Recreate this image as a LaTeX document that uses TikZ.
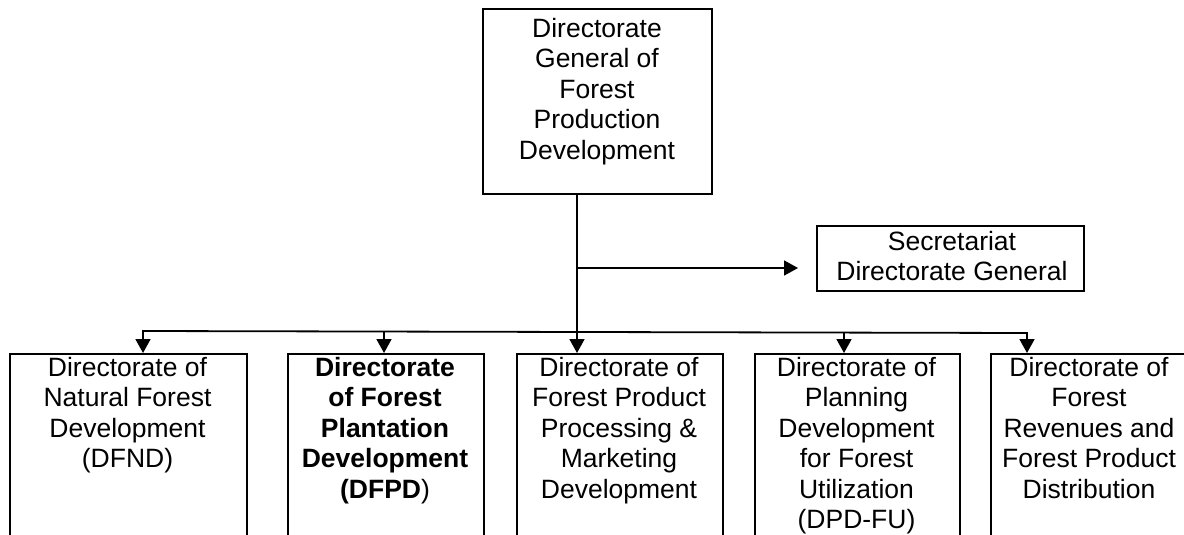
\documentclass[tikz,border=0pt]{standalone}
\usepackage{fontspec}
\setmainfont{Liberation Sans}
\usetikzlibrary{arrows.meta}

\begin{document}
\begin{tikzpicture}[x = 1pt, y = -1pt,
    unit/.style = {draw, line width = 1.8pt, inner sep = 0pt, anchor = north west},
    caption/.style = {align = center, inner sep = 0pt, anchor = north,
        font = \fontsize{26.5}{30.5}\selectfont},
    link/.style = {line width = 1.8pt},
    arr/.style = {link, -{Triangle[length = 14pt, width = 15pt]}}]
    \useasboundingbox (0, 0) rectangle (1184, 535);
    \clip (0, 0) rectangle (1184, 535);

    % director general and secretariat
    \node[unit, minimum width = 229pt, minimum height = 185pt] (dgfpd) at (482, 8) {};
    \node[caption] (dgfpdtext) at (597, 18) {Directorate\\General of\\Forest\\Production\\Development};

    \node[unit, minimum width = 267pt, minimum height = 65pt] (sec) at (816, 225) {};
    \node[caption] (sectext) at (952, 231) {Secretariat\\Directorate General};

    % directorates (cut off at the bottom)
    \node[unit, minimum width = 237pt, minimum height = 207pt] (dfnd) at (9, 353) {};
    \node[caption] (dfndtext) at (127.5, 357) {Directorate of\\Natural Forest\\Development\\(DFND)};

    \node[unit, minimum width = 196pt, minimum height = 207pt] (dfpd) at (287, 353) {};
    \node[caption] (dfpdtext) at (385, 357) {\textbf{Directorate}\\\textbf{of Forest}\\\textbf{Plantation}\\\textbf{Development}\\\textbf{(DFPD})};

    \node[unit, minimum width = 206pt, minimum height = 207pt] (fppmd) at (516, 353) {};
    \node[caption] (fppmdtext) at (619, 357) {Directorate of\\Forest Product\\Processing \&\\Marketing\\Development};

    \node[unit, minimum width = 205pt, minimum height = 207pt] (dpdfu) at (754, 353) {};
    \node[caption] (dpdfutext) at (856.5, 357) {Directorate of\\Planning\\Development\\for Forest\\Utilization\\(DPD-FU)};

    \node[unit, minimum width = 200pt, minimum height = 207pt] (dfrpd) at (990, 353) {};
    \node[caption] (dfrpdtext) at (1089, 357) {Directorate of\\Forest\\Revenues and\\Forest Product\\Distribution};

    % trunk and branches
    \coordinate (trunk) at (577, 268);
    \coordinate (secin) at (798, 268);
    \coordinate (tapa) at (143, 331);
    \coordinate (tapb) at (384, 331);
    \coordinate (tapd) at (844, 333);
    \coordinate (tape) at (1027, 333);

    \draw[arr] (trunk |- dgfpd.south) -- (trunk |- fppmd.north);
    \draw[arr] (trunk) -- (secin);
    \draw[link, {Triangle[length = 14pt, width = 15pt]}-{Triangle[length = 14pt, width = 15pt]}]
        (tapa |- dfnd.north) -- (tapa) -- (tape) -- (tape |- dfrpd.north);
    \draw[arr] (tapb) -- (tapb |- dfpd.north);
    \draw[arr] (tapd) -- (tapd |- dpdfu.north);
\end{tikzpicture}
\end{document}
